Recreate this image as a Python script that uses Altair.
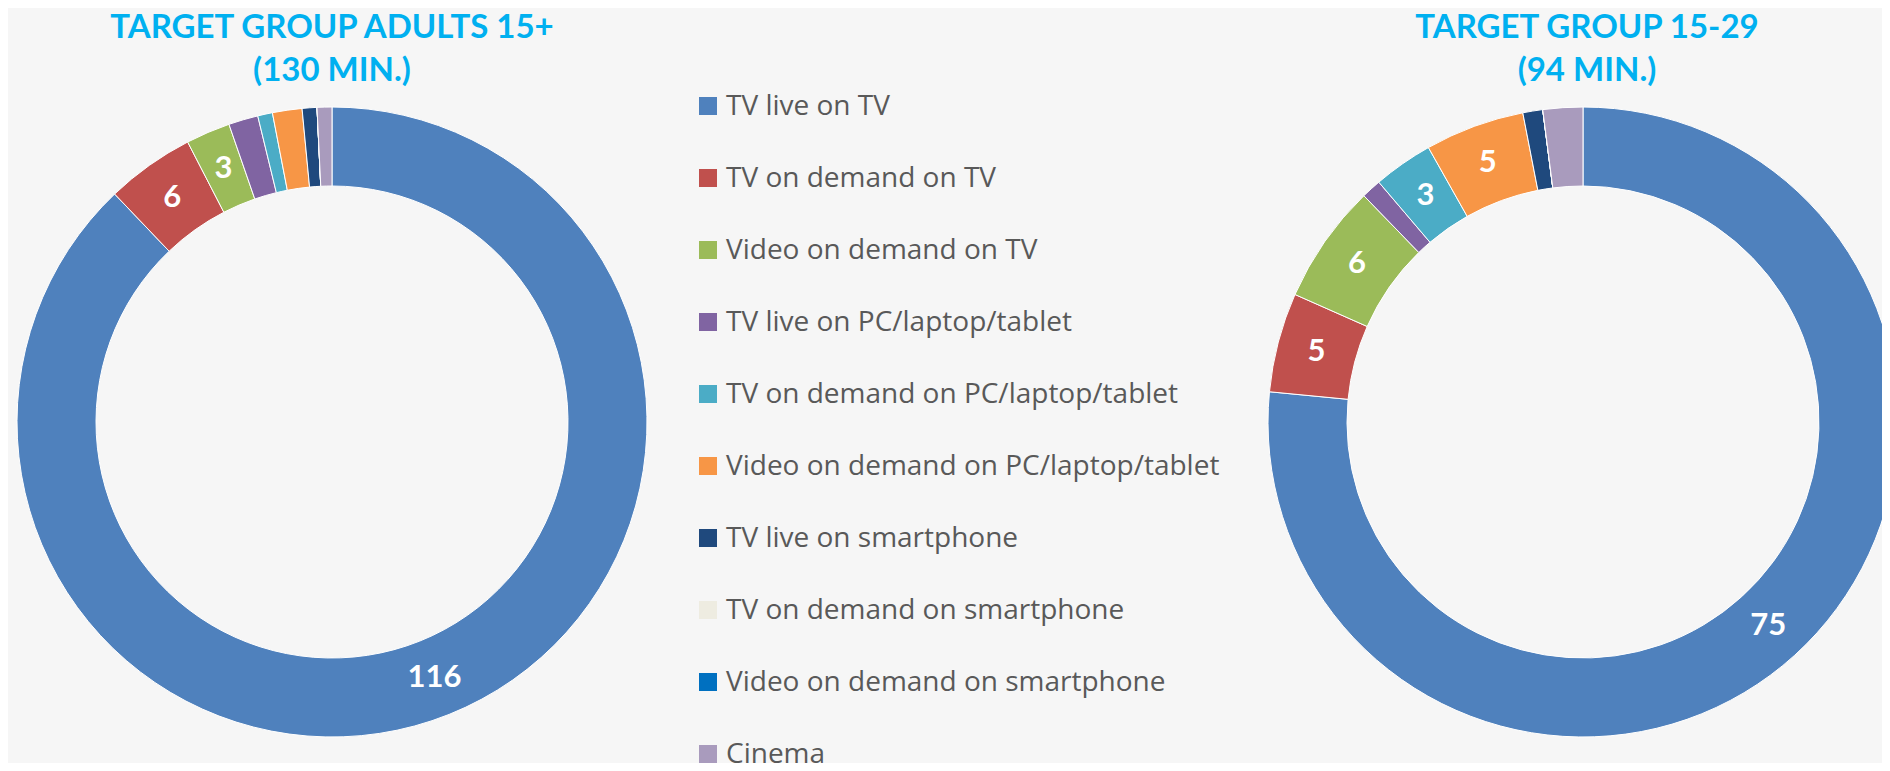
import altair as alt
import pandas as pd

categories = [
    "TV live on TV",
    "TV on demand on TV",
    "Video on demand on TV",
    "TV live on PC/laptop/tablet",
    "TV on demand on PC/laptop/tablet",
    "Video on demand on PC/laptop/tablet",
    "TV live on smartphone",
    "TV on demand on smartphone",
    "Video on demand on smartphone",
    "Cinema",
]
colors = ["#4F81BD", "#C0504D", "#9BBB59", "#8064A2", "#4BACC6",
          "#F79646", "#1F497D", "#EEECE1", "#0070C0", "#A99BBD"]
adults_15plus = [116, 6, 3, 2, 1, 2, 1, 0, 0, 1]
group_15_29 = [75, 5, 6, 1, 3, 5, 1, 0, 0, 2]
title_left = ["TARGET GROUP ADULTS 15+", "(130 MIN.)"]
title_right = ["TARGET GROUP 15-29", "(94 MIN.)"]
label_min = 3

INNER, OUTER = 236, 315
CY = 414          # donut centre inside each panel
VIEW_H = 755      # every panel has the full height

color_scale = alt.Scale(domain=categories, range=colors)


def donut(values, title, width, cx, dx, clip):
    df = pd.DataFrame({"category": categories,
                       "idx": list(range(len(categories))),
                       "value": values})
    base = alt.Chart(df).encode(
        theta=alt.Theta("value:Q", stack=True),
        order=alt.Order("idx:Q"),
    )
    arcs = base.mark_arc(innerRadius=INNER, outerRadius=OUTER, x=cx, y=CY,
                         stroke="white", strokeWidth=1, clip=clip).encode(
        color=alt.Color("category:N", sort=categories, scale=color_scale,
                        legend=None)
    )
    labels = base.transform_calculate(
        label=f"datum.value >= {label_min} ? format(datum.value, 'd') : ''"
    ).mark_text(radius=(INNER + OUTER) / 2, x=cx, y=CY, font="Lato",
                fontSize=31, fontWeight="bold", color="white").encode(
        text="label:N", detail="category:N"
    )
    return alt.layer(arcs, labels).properties(
        width=width, height=VIEW_H,
        title=alt.TitleParams(text=title, font="Lato", fontSize=33,
                              fontWeight="bold", color="#00B0F0",
                              lineHeight=43, anchor="middle", frame="group",
                              offset=-80, dx=dx),
    )


# custom legend panel (rows laid out by a point scale over the categories)
legend_df = pd.DataFrame({"category": categories})
row_y = alt.Y("category:N", sort=categories, axis=None,
              scale=alt.Scale(type="point", padding=0, range=[98, 746]))
legend_sq = alt.Chart(legend_df).mark_square(size=324, opacity=1,
                                             clip=True).encode(
    y=row_y, x=alt.value(52),
    color=alt.Color("category:N", sort=categories, scale=color_scale,
                    legend=None),
)
legend_tx = alt.Chart(legend_df).mark_text(
    align="left", baseline="alphabetic", dy=9, font="Open Sans",
    fontSize=28, color="#595959", clip=True,
).encode(y=row_y, x=alt.value(70), text="category:N")
legend_panel = alt.layer(legend_sq, legend_tx).properties(
    width=607, height=VIEW_H)

left = donut(adults_15plus, title_left, 648, 324, 0, False)
right = donut(group_15_29, title_right, 619, 320, 14.5, True)

chart = alt.hconcat(left, legend_panel, right, spacing=0).resolve_scale(
    theta="independent", color="shared", y="independent"
).properties(padding=0, background="#F6F6F6").configure_view(stroke=None)

chart.save("out.html", embed_options={"renderer": "svg", "actions": False})
